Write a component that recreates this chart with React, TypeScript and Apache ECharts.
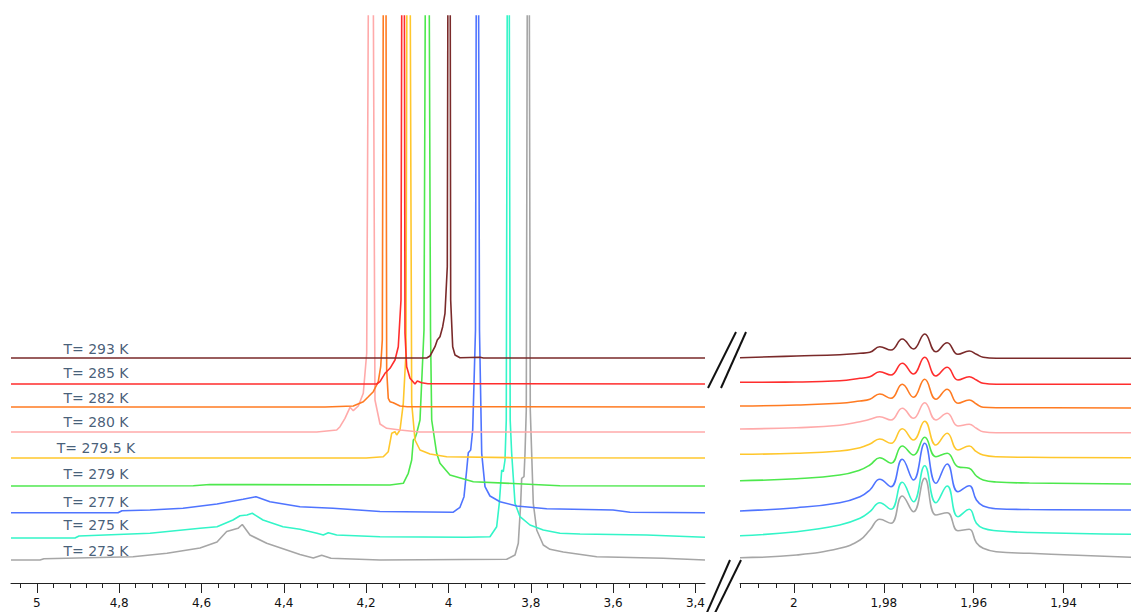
import React, { useEffect, useRef } from 'react';
import * as echarts from 'echarts';

// ---- labels / stacking ----
const temperatures = ['T= 293 K', 'T= 285 K', 'T= 282 K', 'T= 280 K', 'T= 279.5 K', 'T= 279 K', 'T= 277 K', 'T= 275 K', 'T= 273 K'];
const baselineOffsets = [225, 199, 176, 151, 125, 97, 70, 45, 23];
const labelLevels = [234.3, 209.7, 185.3, 161.3, 135.3, 108.7, 81.5, 58.5, 32.5];
const labelPpm = 4.8564;
const lineColors = ['#7a2a2a', '#ff2d2d', '#ff7b22', '#ffaaaa', '#ffc72c', '#4de84d', '#4f74ff', '#33f5c8', '#a6a6a6'];

// ---- axis ticks ----
const leftMajorTicks = [5, 4.8, 4.6, 4.4, 4.2, 4, 3.8, 3.6, 3.4];
const rightMajorTicks = [2, 1.98, 1.96, 1.94];
const leftRange = [3.3768, 5.0629];
const rightRange = [1.925, 2.012];

// ---- left panel spectra: [ppm, intensity above baseline] ----
const left293 = [[5.0629, 0], [4.053, 0], [4.0449, 2], [4.0328, 11.3], [4.0272, 18], [4.0207, 21.3], [4.0141, 31.3], [4.0085, 44.7], [4.0029, 91.3], [3.9981, 1000], [3.9947, 58], [3.9898, 11.3], [3.9842, 3], [3.9721, 0.3], [3.9235, 0.8], [3.915, 0], [3.3768, 0]];
const left285 = [[5.0629, 0], [4.1744, 0], [4.1664, 2.3], [4.1543, 10.7], [4.1421, 15.7], [4.13, 24], [4.122, 37.3], [4.1154, 84], [4.1098, 1000], [4.1057, 51], [4.1016, 17.3], [4.0935, 5.7], [4.0814, 0], [4.0758, 3], [4.0651, 1.3], [4.05, 0.3], [3.3768, 0]];
const left282 = [[5.0629, 0], [4.3, 0], [4.2313, 1], [4.207, 5.3], [4.1948, 10.3], [4.1827, 15.3], [4.1706, 25.3], [4.1647, 40.3], [4.1608, 67], [4.1543, 1000], [4.1502, 37], [4.1463, 8.7], [4.1421, 5.3], [4.1341, 4.3], [4.1178, 1], [4.1, 0.3], [3.3768, 0]];
const left280 = [[5.0629, 0], [4.32, 0], [4.2716, 2], [4.2636, 5.3], [4.2515, 13.7], [4.2393, 24.7], [4.2313, 21.3], [4.2191, 26], [4.207, 38.7], [4.1987, 78.7], [4.1883, 1000], [4.1786, 32], [4.1664, 8], [4.1502, 3.7], [4.1178, 2], [4.07, 0], [3.3768, 0]];
const left2795 = [[5.0629, 0], [4.2, 0], [4.1584, 1.3], [4.1463, 6.3], [4.138, 24.7], [4.13, 26.3], [4.1259, 23], [4.1178, 28], [4.1098, 54.7], [4.1033, 105], [4.0977, 1000], [4.0894, 54.7], [4.0814, 18], [4.0692, 8], [4.0449, 4], [4.0044, 1.3], [3.8433, 0.3], [3.3768, 0]];
const left279 = [[5.0629, 0], [4.62, 0.3], [4.58, 1.5], [4.1421, 1], [4.1098, 2.7], [4.0977, 12.7], [4.0894, 26], [4.0855, 46], [4.0814, 47.7], [4.0773, 52.7], [4.0692, 66], [4.0595, 156], [4.0515, 1000], [4.0437, 156], [4.0408, 66], [4.0287, 32.7], [4.0207, 22.7], [3.9964, 11], [3.9397, 4.3], [3.8183, 2], [3.7291, 0.3], [3.3768, 0]];
const left277 = [[5.0629, 0.3], [4.803, 0.3], [4.7933, 2.3], [4.7252, 3], [4.645, 4.7], [4.5624, 9], [4.4993, 13.7], [4.4677, 16.3], [4.4337, 11.3], [4.3608, 6.3], [4.2806, 4.7], [4.1664, 1.5], [3.9891, 0.7], [3.9721, 5.7], [3.9623, 16.3], [3.9558, 43], [3.9519, 60.3], [3.9461, 63], [3.9412, 83], [3.9344, 183], [3.93, 1000], [3.9247, 183], [3.9193, 59.7], [3.9113, 26.3], [3.8992, 17], [3.8749, 11.3], [3.8343, 7], [3.7614, 4.3], [3.6003, 3], [3.559, 0.7], [3.3768, 0.3]];
const left275 = [[5.0629, 0], [4.9074, 0], [4.8977, 2], [4.7252, 4.7], [4.6037, 9.7], [4.5624, 11.3], [4.5236, 18], [4.5066, 22.3], [4.4896, 23], [4.4767, 24.7], [4.4507, 18], [4.4021, 11.3], [4.3608, 8.7], [4.3195, 4.7], [4.3042, 3], [4.292, 5.3], [4.2716, 3], [4.1664, 1.3], [3.9558, 0.7], [3.8992, 1.3], [3.8829, 11.3], [3.8766, 34.7], [3.8707, 68], [3.8669, 66.3], [3.8627, 78], [3.8596, 118], [3.8547, 1000], [3.8501, 118], [3.8465, 84.7], [3.8384, 34.7], [3.8263, 21.3], [3.802, 13], [3.7697, 8], [3.7291, 4.7], [3.6805, 4], [3.5185, 3], [3.3768, 0.7]];
const left273 = [[5.0629, 0], [4.9925, 0], [4.9828, 1.3], [4.7665, 3.3], [4.6839, 6.7], [4.6037, 12], [4.5624, 18], [4.5389, 28.5], [4.526, 30], [4.5114, 31.7], [4.501, 35.5], [4.4823, 25], [4.4417, 16.7], [4.3608, 5.5], [4.3285, 2], [4.3081, 4.8], [4.2855, 1.7], [4.1664, 0], [3.8586, 0.7], [3.8384, 5], [3.8304, 16.7], [3.8246, 56.7], [3.8222, 81.7], [3.8166, 83.3], [3.8141, 106.7], [3.811, 150], [3.8061, 1000], [3.8013, 150], [3.794, 56.7], [3.7857, 30], [3.7697, 15], [3.7534, 10.7], [3.7211, 8], [3.6399, 3.3], [3.4781, 1.7], [3.3768, 0]];

// ---- right panel spectra (shared ppm grid) ----
const rightPpm = [2.012, 1.9994, 1.9898, 1.9853, 1.9831, 1.9809, 1.9784, 1.9759, 1.9734, 1.9709, 1.9684, 1.9659, 1.9635, 1.961, 1.9594, 1.9579, 1.955, 1.9476, 1.925];
const right293 = [0.3, 2, 3.3, 4.7, 5.7, 11.3, 8, 19, 9, 24, 6.3, 15.3, 3.7, 7, 3.7, 0.7, -0.3, -0.3, -0.3];
const right285 = [1.7, 2, 3.3, 5.7, 7.3, 12.3, 9, 20.7, 10, 26.7, 8, 16.7, 4, 7.3, 4, 0.7, -0.3, -0.3, -0.3];
const right282 = [1, 2, 3.7, 6, 7.7, 13, 8.7, 22.7, 9.7, 27.7, 7.7, 17.7, 3.7, 7, 3, -0.3, -0.7, -0.7, -1];
const right280 = [3, 4.3, 6.7, 10.3, 12.7, 15.3, 12, 23.7, 13.7, 29.3, 12, 18.7, 6, 7.7, 3.7, 0.3, -0.7, -0.7, -0.7];
const right2795 = [3.7, 4.7, 7, 10.3, 14, 19, 14.7, 29.3, 18, 36.7, 13, 24.7, 8, 12, 6.3, 3, 1.3, 0.7, 0.3];
const right279 = [5.3, 7.3, 11, 16, 21, 28.3, 22.7, 40, 31, 48.7, 29.3, 32.7, 19.3, 17.7, 10, 6, 4, 3, 2];
const right277 = [2, 5.3, 10.3, 16.3, 23, 33.7, 26.3, 53.7, 33, 69.7, 29.7, 49, 21.3, 27.3, 13, 7, 4.3, 3.5, 3];
const right275 = [2.3, 6.3, 13, 19.7, 26.3, 35.3, 28.7, 55.7, 36.3, 72.3, 35.3, 52, 21.3, 28.7, 14.7, 9.7, 7.3, 5.5, 3.7];
const right273 = [2.3, 5, 11.7, 20, 30, 40.7, 36.7, 64, 48.3, 81.7, 45, 47.3, 29.3, 30.7, 17.3, 11.7, 8.3, 6.7, 2.7];

const leftSpectra = [left293, left285, left282, left280, left2795, left279, left277, left275, left273];
const rightSpectra = [right293, right285, right282, right280, right2795, right279, right277, right275, right273];

const leftMinorTicks: number[] = [];
for (let k = 85; k <= 126; k++) leftMinorTicks.push(Math.round(k * 4) / 100);
const rightMinorTicks: number[] = [];
for (let k = 482; k <= 503; k++) rightMinorTicks.push(Math.round(k * 4) / 1000);

const fmt = (v: number) => String(Math.round(v * 1000) / 1000).replace('.', ',');

function axisPair(gridIndex: number, range: number[], majors: number[], minors: number[]) {
  const base = {
    type: 'value', gridIndex, min: range[0], max: range[1], inverse: true, position: 'bottom',
    splitLine: { show: false },
  };
  return [
    {
      ...base,
      axisLine: { show: true, lineStyle: { color: '#222', width: 1 } },
      axisTick: { show: true, customValues: majors, length: 10, lineStyle: { color: '#222', width: 1 } },
      axisLabel: { show: true, customValues: majors, formatter: fmt, margin: 14, fontSize: 12, color: '#111', fontFamily: 'DejaVu Sans' },
    },
    {
      ...base,
      axisLine: { show: false },
      axisTick: { show: true, customValues: minors, length: 5, lineStyle: { color: '#222', width: 1 } },
      axisLabel: { show: false },
    },
  ];
}

export default function App() {
  const ref = useRef<HTMLDivElement>(null);
  useEffect(() => {
    if (!ref.current) return;
    const chart = echarts.init(ref.current, null, { renderer: 'svg' });
    const series: any[] = [];
    for (let i = leftSpectra.length - 1; i >= 0; i--) {
      series.push({
        type: 'line', xAxisIndex: 0, yAxisIndex: 0, silent: true, symbol: 'none', clip: true,
        lineStyle: { color: lineColors[i], width: 1.6 },
        data: leftSpectra[i].map(([p, v]) => [p, baselineOffsets[i] + v]),
      });
      series.push({
        type: 'line', xAxisIndex: 2, yAxisIndex: 1, silent: true, symbol: 'none', clip: true, smooth: 0.45,
        lineStyle: { color: lineColors[i], width: 1.6 },
        data: rightPpm.map((p, j) => [p, baselineOffsets[i] + rightSpectra[i][j]]),
      });
    }
    series.push({
      type: 'scatter', xAxisIndex: 0, yAxisIndex: 0, silent: true, symbolSize: 1,
      itemStyle: { color: 'rgba(0,0,0,0)' },
      label: { show: true, position: 'inside', formatter: '{b}', color: '#173556', fontSize: 14, fontFamily: 'DejaVu Sans' },
      data: temperatures.map((t, i) => ({ name: t, value: [labelPpm, labelLevels[i]] })),
    });
    chart.setOption({
      animation: false,
      backgroundColor: '#ffffff',
      grid: [
        { left: 11, width: 694, top: 16, bottom: 29, outerBoundsMode: 'none' },
        { left: 740, right: 0, top: 16, bottom: 29, outerBoundsMode: 'none' },
      ],
      xAxis: [
        ...axisPair(0, leftRange, leftMajorTicks, leftMinorTicks),
        ...axisPair(1, rightRange, rightMajorTicks, rightMinorTicks),
      ],
      yAxis: [
        { type: 'value', gridIndex: 0, min: 0, max: 567, show: false },
        { type: 'value', gridIndex: 1, min: 0, max: 567, show: false },
      ],
      graphic: [
        { type: 'line', shape: { x1: 708, y1: 388, x2: 736, y2: 332 }, style: { stroke: '#111', lineWidth: 2 } },
        { type: 'line', shape: { x1: 721, y1: 388, x2: 746, y2: 332 }, style: { stroke: '#111', lineWidth: 2 } },
        { type: 'line', shape: { x1: 705, y1: 617, x2: 730, y2: 560 }, style: { stroke: '#111', lineWidth: 2 } },
        { type: 'line', shape: { x1: 713, y1: 617, x2: 741, y2: 560 }, style: { stroke: '#111', lineWidth: 2 } },
      ],
      series,
    });
    return () => chart.dispose();
  }, []);
  return <div ref={ref} style={{ position: 'fixed', left: 0, top: 0, width: 1131, height: 612 }} />;
}
